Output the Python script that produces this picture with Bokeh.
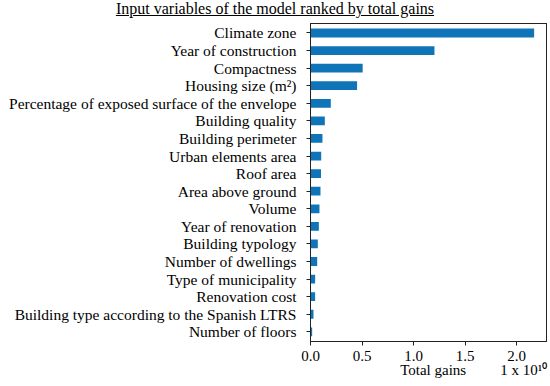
from bokeh.plotting import figure
from bokeh.models import Range1d, FixedTicker, NumeralTickFormatter, LinearAxis, Div
from bokeh.layouts import column
from bokeh.embed import file_html
from bokeh.resources import INLINE

# Data (total gains, in units of 1e10)
features = [
    "Climate zone",
    "Year of construction",
    "Compactness",
    "Housing size (m²)",
    "Percentage of exposed surface of the envelope",
    "Building quality",
    "Building perimeter",
    "Urban elements area",
    "Roof area",
    "Area above ground",
    "Volume",
    "Year of renovation",
    "Building typology",
    "Number of dwellings",
    "Type of municipality",
    "Renovation cost",
    "Building type according to the Spanish LTRS",
    "Number of floors",
]
gains = [2.17, 1.203, 0.506, 0.452, 0.197, 0.139, 0.116, 0.104, 0.102, 0.097,
         0.087, 0.081, 0.071, 0.065, 0.045, 0.045, 0.029, 0.016]
x_ticks = [0.0, 0.5, 1.0, 1.5, 2.0]
title_text = "Input variables of the model ranked by total gains"
x_label = "Total gains"
multiplier = "1 x 10¹⁰"

FONT = "Liberation Serif"
BAR = "#0f75b8"
INK = "#222222"

n = len(features)
ypos = [n - 1 - i for i in range(n)]

TITLE_H = 18
title = Div(text=f"<u>{title_text}</u>", width=550, height=TITLE_H, margin=0,
            styles={"font-family": FONT, "font-size": "16px", "line-height": "16px",
                    "text-align": "center", "color": "black", "width": "550px",
                    "padding-top": "1px"})

p = figure(width=550, height=386 - TITLE_H, output_backend="svg", toolbar_location=None,
           x_range=Range1d(0, 2.29), y_range=Range1d(-0.55, n - 1 + 0.54),
           min_border_left=310, min_border_right=4, min_border_top=5,
           min_border_bottom=45, background_fill_color="white",
           border_fill_color="white", margin=0)

p.hbar(y=ypos, left=0, right=gains, height=0.5, fill_color=BAR, line_color=None)

p.xgrid.visible = False
p.ygrid.visible = False
p.outline_line_color = INK
p.outline_line_width = 1

xa = p.xaxis[0]
xa.ticker = FixedTicker(ticks=x_ticks, minor_ticks=[])
xa.formatter = NumeralTickFormatter(format="0.0")
ya = p.yaxis[0]
ya.ticker = FixedTicker(ticks=ypos, minor_ticks=[])
ya.major_label_overrides = {yy: f for yy, f in zip(ypos, features)}

# second bottom axis carrying the axis title and the multiplier
label_pos = [1.19, 2.07]
xb = LinearAxis(ticker=FixedTicker(ticks=label_pos, minor_ticks=[]),
                major_label_overrides={label_pos[0]: x_label, label_pos[1]: multiplier})
p.add_layout(xb, "below")

for ax in (xa, ya, xb):
    ax.axis_line_color = INK
    ax.major_tick_line_color = INK
    ax.major_tick_out = 4
    ax.major_tick_in = 0
    ax.minor_tick_line_color = None
    ax.major_label_text_font = FONT
    ax.major_label_text_font_size = "15px"
    ax.major_label_text_color = "black"

ya.major_label_text_font_size = "15.5px"
xa.major_label_standoff = 5
ya.major_label_standoff = 10
xb.axis_line_color = None
xb.major_tick_line_color = None
xb.major_tick_out = 0
xb.major_label_standoff = -2

# frame border on top and right
for side in ("above", "right"):
    b = LinearAxis(ticker=FixedTicker(ticks=[], minor_ticks=[]), axis_line_color=INK,
                   major_tick_out=0, major_tick_in=0, major_label_standoff=0,
                   major_label_text_font_size="0px")
    p.add_layout(b, side)

page = column(title, p, spacing=0)
open("out.html", "w").write(file_html(page, INLINE))
